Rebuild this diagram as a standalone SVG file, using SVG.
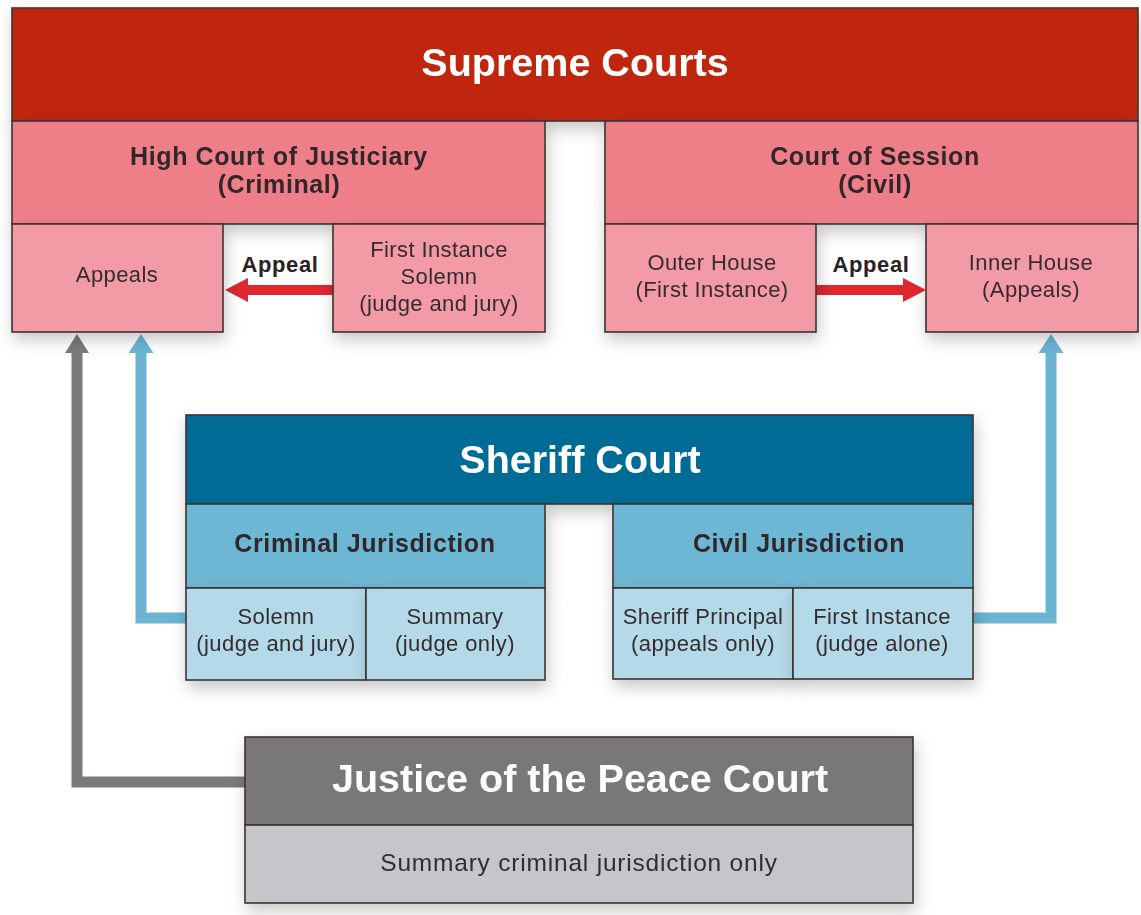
<svg xmlns="http://www.w3.org/2000/svg" width="1141" height="915" viewBox="0 0 1141 915">
<style>
text{font-family:"Liberation Sans",Arial,Helvetica,sans-serif;text-anchor:middle}
.box{stroke:#3d3233;stroke-width:1.6}
.title{fill:#ffffff;font-weight:bold;font-size:39.5px}
.sub{fill:#30272a;font-weight:bold;font-size:25px;letter-spacing:0.6px}
.lbl{fill:#362c2f;font-size:22px;letter-spacing:0.4px}
.red{fill:#bf2810}.pink{fill:#ee7f89}.lpink{fill:#f29ba6}
.dblue{fill:#016c96}.mblue{fill:#6cb7d4}.lblue{fill:#b4daea}
.dgray{fill:#7a7779}.lgray{fill:#c6c5c9}
.arrowlbl{fill:#2b2224;font-weight:bold;font-size:22px;letter-spacing:0.6px}
.conn{fill:none;stroke-width:11;stroke-linejoin:miter}
</style>
<defs>
<filter id="sh" x="-10%" y="-20%" width="120%" height="150%">
<feDropShadow dx="2" dy="7" stdDeviation="8" flood-color="#000" flood-opacity="0.22"/>
</filter>
<marker id="hg" viewBox="0 0 19 24" refX="0" refY="12" markerWidth="19" markerHeight="24" markerUnits="userSpaceOnUse" orient="auto"><path d="M0,0 L19,12 L0,24 z" fill="#7b797c"/></marker>
<marker id="hb" viewBox="0 0 19 25" refX="0" refY="12.5" markerWidth="19" markerHeight="25" markerUnits="userSpaceOnUse" orient="auto"><path d="M0,0 L19,12.5 L0,25 z" fill="#6bb5d3"/></marker>
<marker id="hr" viewBox="0 0 23 24" refX="0" refY="12" markerWidth="23" markerHeight="24" markerUnits="userSpaceOnUse" orient="auto"><path d="M0,0 L23,12 L0,24 z" fill="#e0262e"/></marker>
</defs>
<rect width="1141" height="915" fill="#ffffff"/>

<g id="connectors">
<path class="conn" d="M245,782 H77 V353" stroke="#7b797c" marker-end="url(#hg)"/>
<path class="conn" d="M187,618 H141 V353" stroke="#6bb5d3" marker-end="url(#hb)"/>
<path class="conn" d="M972,618 H1051 V353" stroke="#6bb5d3" marker-end="url(#hb)"/>
<path d="M333,290 H248" stroke="#e0262e" stroke-width="10" fill="none" marker-end="url(#hr)"/>
<path d="M816,290 H903" stroke="#e0262e" stroke-width="10" fill="none" marker-end="url(#hr)"/>
<text class="arrowlbl" x="280" y="272">Appeal</text>
<text class="arrowlbl" x="871" y="272">Appeal</text>
</g>

<g id="supreme-courts" filter="url(#sh)">
<rect class="box red" x="12" y="8" width="1126" height="113"/>
<text class="title" x="575" y="76">Supreme Courts</text>
</g>

<g id="high-court" filter="url(#sh)">
<rect class="box pink" x="12" y="121" width="533" height="103"/>
<text class="sub" x="279" y="165">High Court of Justiciary</text>
<text class="sub" x="279" y="193">(Criminal)</text>
</g>

<g id="hc-appeals" filter="url(#sh)">
<rect class="box lpink" x="12" y="224" width="211" height="108"/>
<text class="lbl" x="117" y="282">Appeals</text>
</g>

<g id="hc-first-instance" filter="url(#sh)">
<rect class="box lpink" x="333" y="224" width="212" height="108"/>
<text class="lbl" x="439" y="257">First Instance</text>
<text class="lbl" x="439" y="284">Solemn</text>
<text class="lbl" x="439" y="311">(judge and jury)</text>
</g>

<g id="court-of-session" filter="url(#sh)">
<rect class="box pink" x="605" y="121" width="533" height="103"/>
<text class="sub" x="875" y="165">Court of Session</text>
<text class="sub" x="875" y="193">(Civil)</text>
</g>

<g id="outer-house" filter="url(#sh)">
<rect class="box lpink" x="605" y="224" width="211" height="108"/>
<text class="lbl" x="712" y="270">Outer House</text>
<text class="lbl" x="712" y="297">(First Instance)</text>
</g>

<g id="inner-house" filter="url(#sh)">
<rect class="box lpink" x="926" y="224" width="212" height="108"/>
<text class="lbl" x="1031" y="270">Inner House</text>
<text class="lbl" x="1031" y="297">(Appeals)</text>
</g>

<g id="sheriff-court" filter="url(#sh)">
<rect class="box dblue" x="186" y="415" width="787" height="89"/>
<text class="title" x="580" y="473">Sheriff Court</text>
</g>

<g id="criminal-jurisdiction" filter="url(#sh)">
<rect class="box mblue" x="186" y="504" width="359" height="84"/>
<text class="sub" x="365" y="552">Criminal Jurisdiction</text>
</g>

<g id="sc-solemn" filter="url(#sh)">
<rect class="box lblue" x="186" y="588" width="180" height="92"/>
<text class="lbl" x="276" y="624">Solemn</text>
<text class="lbl" x="276" y="651">(judge and jury)</text>
</g>

<g id="sc-summary" filter="url(#sh)">
<rect class="box lblue" x="366" y="588" width="179" height="92"/>
<text class="lbl" x="455" y="624">Summary</text>
<text class="lbl" x="455" y="651">(judge only)</text>
</g>

<g id="civil-jurisdiction" filter="url(#sh)">
<rect class="box mblue" x="613" y="504" width="360" height="84"/>
<text class="sub" x="799" y="552">Civil Jurisdiction</text>
</g>

<g id="sc-sheriff-principal" filter="url(#sh)">
<rect class="box lblue" x="613" y="588" width="180" height="91"/>
<text class="lbl" x="703" y="624">Sheriff Principal</text>
<text class="lbl" x="703" y="651">(appeals only)</text>
</g>

<g id="sc-first-instance" filter="url(#sh)">
<rect class="box lblue" x="793" y="588" width="180" height="91"/>
<text class="lbl" x="882" y="624">First Instance</text>
<text class="lbl" x="882" y="651">(judge alone)</text>
</g>

<g id="justice-of-the-peace" filter="url(#sh)">
<rect class="box dgray" x="245" y="737" width="668" height="88"/>
<text class="title" x="580" y="792">Justice of the Peace Court</text>
<rect class="box lgray" x="245" y="825" width="668" height="78"/>
<text class="lbl" x="579" y="871" style="font-size:24.5px;letter-spacing:0.8px">Summary criminal jurisdiction only</text>
</g>
</svg>
